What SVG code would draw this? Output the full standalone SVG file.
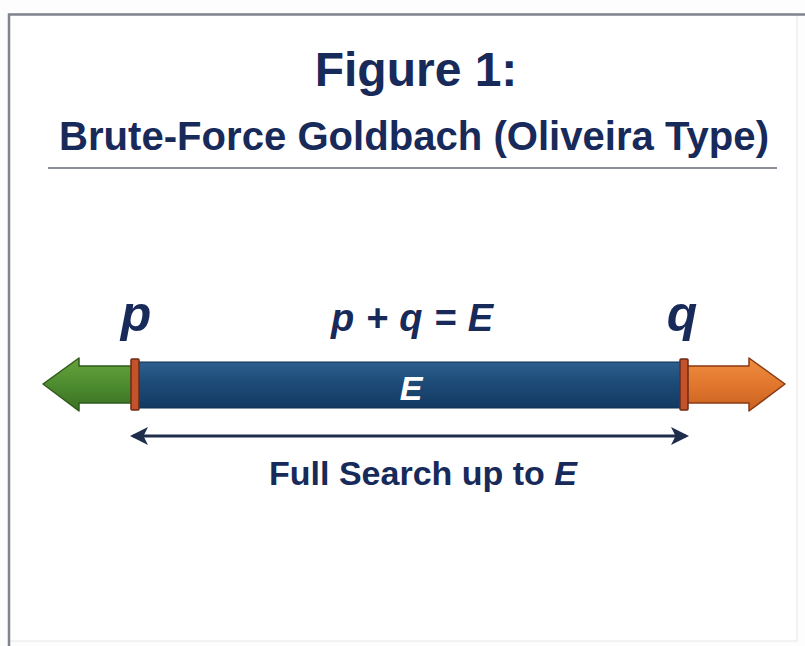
<svg xmlns="http://www.w3.org/2000/svg" width="805" height="646" viewBox="0 0 805 646">
  <style>
    .navy { fill: #172a5a; font-family: "Liberation Sans", Arial, sans-serif; font-weight: bold; }
    .ital { font-style: italic; }
    .frame { stroke: #7f838f; stroke-width: 2.5; fill: none; }
  </style>
  <defs>
    <linearGradient id="gBlue" x1="0" y1="0" x2="0" y2="1">
      <stop offset="0" stop-color="#2d5f8e"/>
      <stop offset="0.45" stop-color="#1d4b77"/>
      <stop offset="1" stop-color="#123a62"/>
    </linearGradient>
    <linearGradient id="gGreen" x1="0" y1="0" x2="0" y2="1">
      <stop offset="0" stop-color="#66a33d"/>
      <stop offset="0.5" stop-color="#4e8c2f"/>
      <stop offset="1" stop-color="#3a7022"/>
    </linearGradient>
    <linearGradient id="gOrange" x1="0" y1="0" x2="0" y2="1">
      <stop offset="0" stop-color="#ee8d40"/>
      <stop offset="0.5" stop-color="#e2772e"/>
      <stop offset="1" stop-color="#c8621f"/>
    </linearGradient>
    <marker id="arr" viewBox="0 0 12 12" refX="10" refY="6" markerWidth="6" markerHeight="6" orient="auto-start-reverse" markerUnits="strokeWidth">
      <path d="M0,0 L12,6 L0,12 L3,6 Z" fill="#1f2d4d"/>
    </marker>
  </defs>

  <rect x="0" y="0" width="805" height="646" fill="#fdfdfd"/>
  <g id="frame">
    <rect x="9" y="14" width="788" height="627" fill="#ffffff" stroke="#e4e6ea" stroke-width="1"/>
    <path class="frame" d="M9,646 L9,14.5 L805,14.5"/>
  </g>

  <g id="title">
    <text class="navy" x="416" y="86" font-size="48" text-anchor="middle">Figure 1:</text>
    <text class="navy" x="414" y="150" font-size="40" text-anchor="middle" textLength="710" lengthAdjust="spacingAndGlyphs">Brute-Force Goldbach (Oliveira Type)</text>
    <line x1="48" y1="168" x2="777" y2="168" stroke="#8a8e99" stroke-width="2"/>
  </g>

  <g id="arrow-left">
    <path d="M43,384 L79,358 L79,366 L135,366 L135,403 L79,403 L79,411 Z" fill="url(#gGreen)" stroke="#2f5a1c" stroke-width="1.5" stroke-linejoin="round"/>
  </g>
  <g id="arrow-right">
    <path d="M785,384 L749,358 L749,366 L684,366 L684,403 L749,403 L749,411 Z" fill="url(#gOrange)" stroke="#8a3a14" stroke-width="1.5" stroke-linejoin="round"/>
  </g>

  <g id="bar">
    <rect x="138" y="362" width="543" height="46" fill="url(#gBlue)" stroke="#0f2f52" stroke-width="1"/>
    <rect x="131" y="359" width="8" height="51" rx="1" fill="#c4532c" stroke="#6e2a14" stroke-width="1.5"/>
    <rect x="680" y="359" width="8" height="51" rx="1" fill="#c4532c" stroke="#6e2a14" stroke-width="1.5"/>
    <text x="411" y="400" font-family="Liberation Sans, Arial, sans-serif" font-weight="bold" font-style="italic" font-size="34" fill="#ffffff" text-anchor="middle">E</text>
  </g>

  <g id="labels">
    <text class="navy ital" x="136" y="331" font-size="50" text-anchor="middle">p</text>
    <text class="navy ital" x="682" y="331" font-size="50" text-anchor="middle">q</text>
    <text class="navy ital" x="412" y="331" font-size="38" text-anchor="middle" textLength="162" lengthAdjust="spacing">p + q = E</text>
  </g>

  <g id="connectors">
    <line x1="133" y1="436" x2="686" y2="436" stroke="#1f2d4d" stroke-width="3" marker-start="url(#arr)" marker-end="url(#arr)"/>
  </g>

  <g id="caption">
    <text class="navy" x="423" y="485" font-size="34" text-anchor="middle">Full Search up to <tspan class="ital">E</tspan></text>
  </g>
</svg>
